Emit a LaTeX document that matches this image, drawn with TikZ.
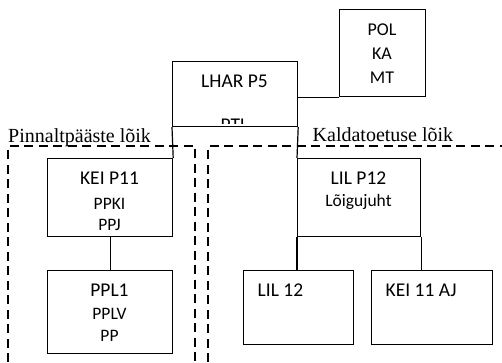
\documentclass[tikz,border=0pt]{standalone}
\usepackage{fontspec}
\setmainfont{Carlito}
\newfontfamily\tnr{Liberation Serif}
\begin{document}
\begin{tikzpicture}[x=1pt,y=-1pt,
  box/.style={draw=black,line width=1.2pt,inner sep=0pt,anchor=north west},
  conn/.style={draw=black,line width=1.2pt},
  sect/.style={draw=black,line width=1.1pt,dash pattern=on 9pt off 5.5pt},
  txt/.style={anchor=base,inner sep=0pt},
  lbl/.style={anchor=base west,inner sep=0pt,font=\tnr\fontsize{20}{24}\selectfont}]
\useasboundingbox (0,0) rectangle (502,362);
% boxes
\node[box,minimum width=125pt,minimum height=65pt] (lhar) at (172,61) {};
\node[box,minimum width=86pt,minimum height=87pt] (pol) at (339,9) {};
\node[box,minimum width=125pt,minimum height=78pt] (kei) at (47,158) {};
\node[box,minimum width=123pt,minimum height=78pt] (lil) at (297,158) {};
\node[box,minimum width=125pt,minimum height=83pt] (ppl) at (47,270) {};
\node[box,minimum width=110pt,minimum height=74pt] (lil12) at (243,270) {};
\node[box,minimum width=121pt,minimum height=74pt] (kei11) at (371,270) {};
% connectors
\coordinate (polin) at (pol.south west);
\draw[conn] (lhar.east |- polin) -- (polin);
\draw[conn] (lhar.south west) -- (kei.north east);
\draw[conn] (lhar.south east) -- (lil.north west);
\draw[conn] (kei.south) -- (ppl.north);
\draw[conn] (lil.south west) -- (lil12.north -| lil.south west);
\draw[conn] (lil.south east) -- (kei11.north -| lil.south east);
% section frames
\coordinate (l1) at (8,362);
\coordinate (l2) at (8,146);
\coordinate (l3) at (195,146);
\coordinate (l4) at (195,362);
\coordinate (r1) at (208,362);
\coordinate (r2) at (208,146);
\coordinate (r3) at (502,146);
\draw[sect] (l1) -- (l2) -- (l3) -- (l4);
\draw[sect] (r1) -- (r2) -- (r3);
\node[lbl] (lab1) at (8,142.5) {Pinnaltpääste lõik};
\node[lbl] (lab2) at (312.5,141) {Kaldatoetuse lõik};
% texts
\node[txt,font=\fontsize{19.5}{23}\selectfont] (t1) at (234.5,87.3) {LHAR P5};
\begin{scope}
\clip (172,61) rectangle (297,123.5);
\node[txt,font=\fontsize{19.5}{23}\selectfont] (t2) at (234.5,131.6) {PTL};
\end{scope}
\node[txt,font=\fontsize{18}{22}\selectfont] (p1) at (382,35.7) {POL};
\node[txt,font=\fontsize{18}{22}\selectfont] (p2) at (382,59.3) {KA};
\node[txt,font=\fontsize{18}{22}\selectfont] (p3) at (382,83) {MT};
\node[txt,font=\fontsize{19.5}{22}\selectfont] (k1) at (109.5,184.3) {KEI P11};
\node[txt,font=\fontsize{17.5}{20}\selectfont] (k2) at (109.5,209.3) {PPKI};
\node[txt,font=\fontsize{17.5}{20}\selectfont] (k3) at (109.5,230.5) {PPJ};
\node[txt,font=\fontsize{19.5}{22}\selectfont] (q1) at (109.5,296.7) {PPL1};
\node[txt,font=\fontsize{17.5}{20}\selectfont] (q2) at (109.5,319.3) {PPLV};
\node[txt,font=\fontsize{17.5}{20}\selectfont] (q3) at (109.5,341) {PP};
\node[txt,font=\fontsize{19.5}{22}\selectfont] (m1) at (358.5,184.3) {LIL P12};
\node[txt,font=\fontsize{17.5}{20}\selectfont] (m2) at (358.5,206) {Lõigujuht};
\node[txt,anchor=base west,font=\fontsize{19.5}{22}\selectfont] (n1) at (257.5,296) {LIL 12};
\node[txt,anchor=base west,font=\fontsize{19.5}{22}\selectfont] (n2) at (385.5,296) {KEI 11 AJ};
\end{tikzpicture}
\end{document}
